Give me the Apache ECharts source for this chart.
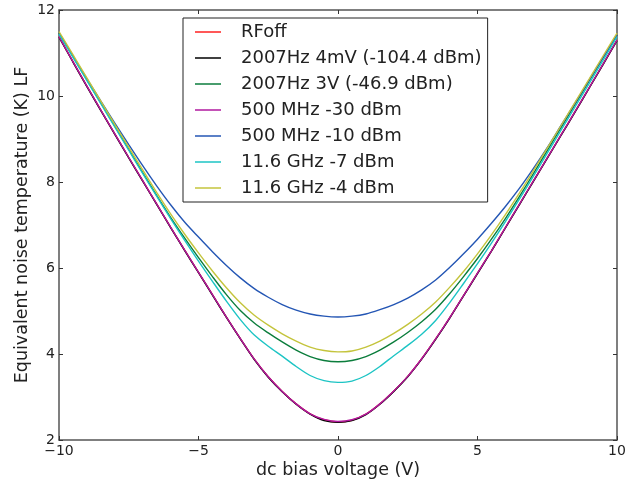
<!DOCTYPE html>
<html>
<head>
<meta charset="utf-8">
<script src="https://cdn.jsdelivr.net/npm/echarts@6/dist/echarts.min.js"></script>
<style>
  html, body { margin: 0; padding: 0; background: #fff; }
  #noisechart { width: 626px; height: 485px; }
</style>
</head>
<body>
<div id="noisechart"></div>
<script>
// dc bias voltage (V), 0.5 V steps
var volts = [-10, -9.5, -9, -8.5, -8, -7.5, -7, -6.5, -6, -5.5, -5, -4.5, -4, -3.5, -3, -2.5, -2, -1.5, -1, -0.5,
             0, 0.5, 1, 1.5, 2, 2.5, 3, 3.5, 4, 4.5, 5, 5.5, 6, 6.5, 7, 7.5, 8, 8.5, 9, 9.5, 10];

var seriesNames = ['RFoff', '2007Hz 4mV (-104.4 dBm)', '2007Hz 3V (-46.9 dBm)', '500 MHz -30 dBm',
                   '500 MHz -10 dBm', '11.6 GHz -7 dBm', '11.6 GHz -4 dBm'];

var rfOff = [11.38, 10.80, 10.23, 9.67, 9.12, 8.57, 8.03, 7.49, 6.95, 6.42, 5.90, 5.38, 4.86, 4.36, 3.88, 3.47, 3.13, 2.84, 2.61, 2.47,
             2.42, 2.46, 2.60, 2.84, 3.14, 3.48, 3.89, 4.35, 4.84, 5.36, 5.88, 6.40, 6.94, 7.48, 8.02, 8.56, 9.10, 9.64, 10.19, 10.74, 11.30];
var lf4mV = [11.37, 10.79, 10.22, 9.66, 9.11, 8.56, 8.02, 7.48, 6.94, 6.41, 5.89, 5.37, 4.85, 4.35, 3.87, 3.46, 3.12, 2.83, 2.60, 2.45,
             2.41, 2.45, 2.59, 2.83, 3.13, 3.47, 3.88, 4.34, 4.83, 5.35, 5.87, 6.39, 6.93, 7.47, 8.01, 8.55, 9.09, 9.63, 10.18, 10.73, 11.29];
var lf3V = [11.47, 10.93, 10.38, 9.84, 9.30, 8.76, 8.22, 7.69, 7.18, 6.70, 6.24, 5.80, 5.38, 5.01, 4.72, 4.49, 4.28, 4.09, 3.94, 3.85,
            3.82, 3.85, 3.94, 4.09, 4.28, 4.50, 4.75, 5.04, 5.40, 5.80, 6.22, 6.67, 7.15, 7.66, 8.19, 8.73, 9.27, 9.81, 10.35, 10.89, 11.42];
var mhz30 = [11.38, 10.80, 10.23, 9.67, 9.12, 8.57, 8.03, 7.49, 6.95, 6.42, 5.90, 5.38, 4.86, 4.36, 3.88, 3.47, 3.13, 2.84, 2.61, 2.48,
             2.43, 2.47, 2.60, 2.84, 3.14, 3.48, 3.89, 4.35, 4.84, 5.36, 5.88, 6.40, 6.94, 7.48, 8.02, 8.56, 9.10, 9.64, 10.19, 10.74, 11.30];
var mhz10 = [11.45, 10.92, 10.40, 9.88, 9.37, 8.87, 8.38, 7.91, 7.47, 7.07, 6.72, 6.38, 6.06, 5.77, 5.52, 5.32, 5.15, 5.02, 4.93, 4.88,
             4.86, 4.88, 4.93, 5.03, 5.15, 5.30, 5.49, 5.72, 6.01, 6.33, 6.67, 7.04, 7.43, 7.85, 8.31, 8.80, 9.32, 9.84, 10.37, 10.90, 11.42];
var ghz7 = [11.44, 10.90, 10.36, 9.82, 9.28, 8.74, 8.20, 7.67, 7.15, 6.65, 6.16, 5.69, 5.23, 4.80, 4.44, 4.18, 3.95, 3.71, 3.50, 3.38,
            3.34, 3.37, 3.50, 3.71, 3.96, 4.20, 4.46, 4.78, 5.19, 5.64, 6.10, 6.58, 7.08, 7.60, 8.13, 8.67, 9.21, 9.75, 10.29, 10.83, 11.38];
var ghz4 = [11.50, 10.96, 10.42, 9.88, 9.34, 8.81, 8.28, 7.76, 7.26, 6.79, 6.35, 5.93, 5.54, 5.19, 4.90, 4.67, 4.47, 4.30, 4.16, 4.08,
            4.05, 4.07, 4.16, 4.30, 4.48, 4.69, 4.93, 5.21, 5.55, 5.92, 6.33, 6.77, 7.24, 7.74, 8.26, 8.79, 9.32, 9.86, 10.39, 10.93, 11.46];

var xTicks = [-10, -5, 0, 5, 10];
var yTicks = [2, 4, 6, 8, 10, 12];

var allValues = [rfOff, lf4mV, lf3V, mhz30, mhz10, ghz7, ghz4];
var colors = ['#ff2020', '#000000', '#0b7d3c', '#b0199f', '#2456b4', '#1cc4c4', '#c4c43c'];

var font = 'DejaVu Sans';

function pairs(ys) {
    return volts.map(function (v, i) { return [v, ys[i]]; });
}

function minus(v) {
    return String(v).replace('-', '\u2212');
}

var myChart = echarts.init(document.getElementById('noisechart'));

var frameLine = { show: true, onZero: false, lineStyle: { color: '#555', width: 1.5 } };
var frameTick = { show: true, inside: true, length: 4, lineStyle: { color: '#333', width: 1 } };

var option = {
    backgroundColor: '#fff',
    animation: false,
    textStyle: { fontFamily: font },
    grid: { left: 59, right: 9, top: 10, bottom: 45, containLabel: false, outerBoundsMode: 'none' },
    legend: {
        data: seriesNames,
        orient: 'vertical',
        left: 183,
        top: 18,
        icon: 'rect',
        itemWidth: 26,
        itemHeight: 1.5,
        itemGap: 8,
        padding: [5, 6, 5, 12],
        backgroundColor: '#fff',
        borderColor: '#222',
        borderWidth: 1,
        borderRadius: 0,
        textStyle: { fontFamily: font, fontSize: 18, lineHeight: 18, color: '#222', padding: [0, 0, 0, 15] }
    },
    xAxis: [{
        type: 'value',
        min: -10, max: 10, interval: 5,
        name: 'dc bias voltage (V)',
        nameLocation: 'middle',
        nameGap: 21,
        nameMoveOverlap: false,
        nameTextStyle: { fontFamily: font, fontSize: 17.5, color: '#222' },
        axisLine: frameLine,
        axisTick: frameTick,
        splitLine: { show: false },
        axisLabel: {
            fontFamily: font, fontSize: 14, color: '#222', margin: 4,
            formatter: function (v) { return xTicks.indexOf(v) >= 0 ? minus(v) : ''; }
        }
    }, {
        type: 'value', position: 'top',
        min: -10, max: 10, interval: 5,
        axisLine: frameLine,
        axisTick: frameTick,
        splitLine: { show: false },
        axisLabel: { show: false }
    }],
    yAxis: [{
        type: 'value',
        min: 2, max: 12, interval: 2,
        name: 'Equivalent noise temperature (K) LF',
        nameLocation: 'middle',
        nameGap: 28,
        nameMoveOverlap: false,
        nameTextStyle: { fontFamily: font, fontSize: 17.5, color: '#222' },
        axisLine: frameLine,
        axisTick: frameTick,
        splitLine: { show: false },
        axisLabel: {
            fontFamily: font, fontSize: 14, color: '#222', margin: 4,
            formatter: function (v) { return yTicks.indexOf(v) >= 0 ? minus(v) : ''; }
        }
    }, {
        type: 'value', position: 'right',
        min: 2, max: 12, interval: 2,
        axisLine: frameLine,
        axisTick: frameTick,
        splitLine: { show: false },
        axisLabel: { show: false }
    }],
    series: seriesNames.map(function (name, i) {
        return {
            name: name,
            type: 'line',
            xAxisIndex: 0,
            yAxisIndex: 0,
            showSymbol: false,
            symbol: 'none',
            smooth: 0.3,
            color: colors[i],
            lineStyle: { color: colors[i], width: 1.4 },
            data: pairs(allValues[i])
        };
    })
};

myChart.setOption(option);
</script>
</body>
</html>
